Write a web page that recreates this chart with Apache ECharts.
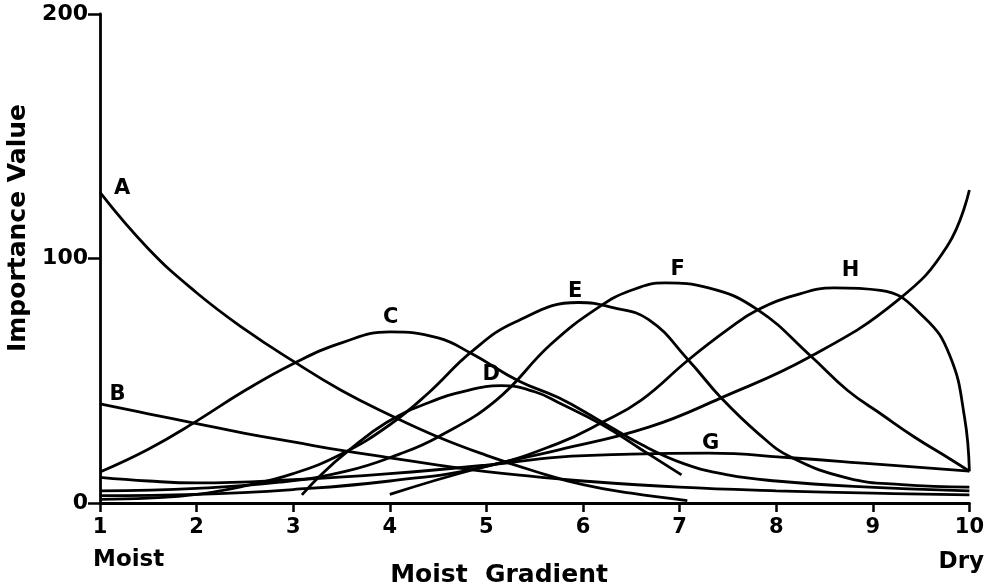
<!DOCTYPE html>
<html>
<head>
<meta charset="utf-8">
<script src="https://cdn.jsdelivr.net/npm/echarts@6/dist/echarts.min.js"></script>
<style>html,body{margin:0;padding:0;background:#fff}#c{width:987px;height:585px}</style>
</head>
<body>
<div id="c"></div>
<script>
// ---- data: [moisture position, importance value] ----
const seriesA = [[1,127],[1.5,104],[2,86],[2.5,71],[3,58],[3.5,46],[4,36],[4.5,27],[5,19.5],[5.5,13],[6,7.5],[6.5,4],[7.08,1]];
const seriesB = [[1,40.5],[1.5,36.5],[2,32.5],[2.5,28.5],[3,25],[3.5,21.5],[4,18.5],[4.5,15.5],[5,12.8],[5.5,10.8],[6,9],[7,6.5],[8,5],[9,4],[10,3.3]];
const seriesC = [[1,12.7],[1.5,22],[2,33.5],[2.5,46],[3,57],[3.5,65.5],[4,70],[4.5,67.5],[4.85,61],[5.33,50],[5.75,43],[6.16,34],[6.6,24],[7.05,16],[7.5,11.5],[8,9],[8.8,6.8],[10,5]];
const seriesD = [[3.09,3.3],[3.3,12],[3.56,21],[3.97,33],[4.4,41],[4.8,46],[5.15,48],[5.5,45.5],[5.75,41],[6.2,32],[6.6,22],[7.02,11.5]];
const seriesE = [[1,1.5],[1.5,2],[2,3.5],[2.5,7],[3,12],[3.5,20],[4,32],[4.4,45],[4.85,62],[5.3,74],[5.95,82],[6.3,80],[6.68,75],[7.09,58.5],[7.43,43],[7.81,28.6],[8.15,18.8],[8.74,10.2],[9.3,7.5],[10,6.5]];
const seriesF = [[1,5],[2,6],[2.86,8.5],[3.55,13],[4.1,20],[4.5,27],[5.1,42],[5.67,65],[6.16,80],[6.5,87],[6.85,90],[7.3,88],[7.81,79],[8.36,60],[8.74,46],[9.1,36],[9.43,27],[9.8,18],[10,13]];
const seriesG = [[1,10.5],[1.5,9],[2,8.2],[3,9.5],[4,12],[5,15.5],[5.75,18.8],[6.5,20],[7.3,20.4],[8.15,18.5],[9,16],[10,13]];
const seriesH = [[1,3],[2,3.5],[3,5.5],[4,9],[5,15],[5.75,24.5],[6.2,33],[6.6,42],[7.09,58.5],[7.5,71],[7.81,79],[8.2,85],[8.6,88],[9.08,87],[9.53,76],[9.8,60],[9.95,35],[10,13]];
const seriesI = [[4,3.5],[4.9,14],[5.75,21.7],[6.68,31],[7.43,43],[8.36,60],[9.26,83],[9.77,105],[10,128]];
const curveNames = ['A','B','C','D','E','F','G','H','I'];
const curves = [seriesA, seriesB, seriesC, seriesD, seriesE, seriesF, seriesG, seriesH, seriesI];
// letter anchors [x, y, letter]
const labelAnchors = [[1.23,128.8,'A'],[1.18,44.2,'B'],[4.01,75.7,'C'],[5.05,52.4,'D'],[5.92,86.3,'E'],[6.98,95.3,'F'],[7.32,24.5,'G'],[8.77,94.9,'H'],[10.04,133,'I']];
const xTicks = [1,2,3,4,5,6,7,8,9,10];
const yTicks = [0,100,200];

const FONT = '"DejaVu Sans", sans-serif';
const chart = echarts.init(document.getElementById('c'), null, {renderer:'canvas'});

const lineSeries = curves.map((d, i) => ({
  name: curveNames[i],
  type: 'line',
  data: d,
  smooth: 0.45,
  showSymbol: false,
  symbol: 'none',
  clip: false,
  lineStyle: {color: '#000', width: 2.8},
  silent: true,
  z: 2
}));

chart.setOption({
  animation: false,
  backgroundColor: '#fff',
  grid: {left: 100, right: 15, top: 14, bottom: 82, containLabel: false},
  xAxis: {
    type: 'value', min: xTicks[0], max: xTicks[xTicks.length-1], interval: 1,
    axisLine: {onZero: false, lineStyle: {color: '#000', width: 2.8}},
    axisTick: {show: true, length: 9, lineStyle: {color: '#000', width: 2.5}},
    axisLabel: {color: '#000', fontFamily: FONT, fontWeight: 'bold', fontSize: 21, margin: 14},
    splitLine: {show: false}
  },
  yAxis: {
    type: 'value', min: yTicks[0], max: yTicks[yTicks.length-1], interval: 100,
    axisLine: {show: true, lineStyle: {color: '#000', width: 2.8}},
    axisTick: {show: true, length: 12, lineStyle: {color: '#000', width: 2.5}},
    axisLabel: {color: '#000', fontFamily: FONT, fontWeight: 'bold', fontSize: 22, margin: 12},
    splitLine: {show: false}
  },
  series: lineSeries.concat([{
    type: 'scatter',
    data: labelAnchors.map(a => ({value: [a[0], a[1]], name: a[2]})),
    symbolSize: 0,
    silent: true,
    itemStyle: {opacity: 1, color: '#000'},
    label: {show: true, opacity: 1, position: [0, 0], align: 'center', verticalAlign: 'middle', formatter: p => p.name, color: '#000', fontFamily: FONT, fontWeight: 'bold', fontSize: 21},
    z: 5
  }]),
  graphic: [
    {type: 'text', x: 18, y: 228, rotation: Math.PI/2,
     style: {text: 'Importance Value', font: 'bold 25px ' + FONT, fill: '#000', textAlign: 'center', textVerticalAlign: 'middle'}},
    {type: 'text', x: 93, y: 560,
     style: {text: 'Moist', font: 'bold 23px ' + FONT, fill: '#000', textAlign: 'left', textVerticalAlign: 'middle'}},
    {type: 'text', x: 984, y: 562,
     style: {text: 'Dry', font: 'bold 23px ' + FONT, fill: '#000', textAlign: 'right', textVerticalAlign: 'middle'}},
    {type: 'text', x: 499, y: 575,
     style: {text: 'Moist  Gradient', font: 'bold 25px ' + FONT, fill: '#000', textAlign: 'center', textVerticalAlign: 'middle'}}
  ]
});
</script>
</body>
</html>
